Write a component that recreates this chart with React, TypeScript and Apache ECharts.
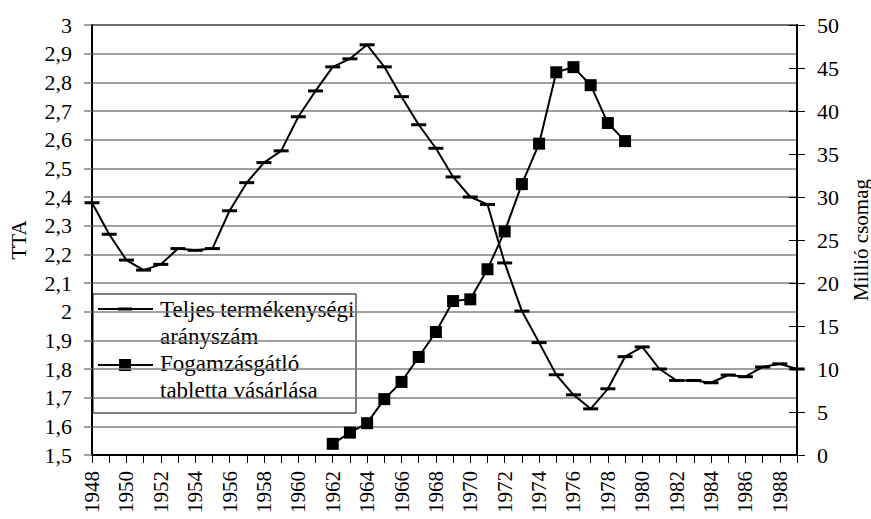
import React, { useEffect, useRef } from "react";
import * as echarts from "echarts";

const years = [
  "1948", "1949", "1950", "1951", "1952", "1953", "1954", "1955", "1956", "1957",
  "1958", "1959", "1960", "1961", "1962", "1963", "1964", "1965", "1966", "1967",
  "1968", "1969", "1970", "1971", "1972", "1973", "1974", "1975", "1976", "1977",
  "1978", "1979", "1980", "1981", "1982", "1983", "1984", "1985", "1986", "1987",
  "1988", "1989",
];

const tfr = [
  2.38, 2.27, 2.18, 2.145, 2.165, 2.22, 2.214, 2.22, 2.352, 2.45,
  2.52, 2.561, 2.68, 2.77, 2.854, 2.882, 2.931, 2.854, 2.75, 2.652,
  2.57, 2.47, 2.4, 2.374, 2.17, 2.002, 1.892, 1.78, 1.71, 1.661,
  1.731, 1.843, 1.877, 1.8, 1.76, 1.76, 1.752, 1.779, 1.773, 1.807,
  1.818, 1.8,
];

const pill = [
  null, null, null, null, null, null, null, null, null, null,
  null, null, null, null, 1.3, 2.6, 3.7, 6.5, 8.5, 11.4,
  14.3, 17.9, 18.1, 21.6, 26.0, 31.5, 36.2, 44.5, 45.1, 43.0,
  38.6, 36.5, null, null, null, null, null, null, null, null,
  null, null,
];

const tfrName = "Teljes termékenységi\narányszám";
const pillName = "Fogamzásgátló\ntabletta vásárlása";

const FONT = "Liberation Serif";

export default function App() {
  const ref = useRef<HTMLDivElement>(null);
  useEffect(() => {
    const chart = echarts.init(ref.current!, null, { renderer: "svg" });
    chart.setOption({
      animation: false,
      backgroundColor: "#ffffff",
      textStyle: { fontFamily: FONT, color: "#000" },
      grid: {
        left: 92,
        right: 74,
        top: 25,
        bottom: 64,
        containLabel: false,
        outerBoundsMode: "none",
        show: true,
        borderColor: "#000",
        borderWidth: 1.5,
      },
      xAxis: {
        type: "category",
        data: years,
        boundaryGap: false,
        axisLine: { lineStyle: { color: "#000", width: 2 } },
        axisTick: { show: true, interval: 0, length: 8, lineStyle: { color: "#000", width: 1 } },
        axisLabel: {
          interval: 1,
          rotate: 90,
          margin: 16,
          fontFamily: FONT,
          fontSize: 21,
          color: "#000",
        },
        splitLine: { show: false },
      },
      yAxis: [
        {
          type: "value",
          min: 1.5,
          max: 3,
          interval: 0.1,
          name: "TTA",
          nameLocation: "middle",
          nameGap: 63,
          nameRotate: 90,
          nameTextStyle: { fontFamily: FONT, fontSize: 21, color: "#000" },
          axisLine: { show: true, lineStyle: { color: "#000", width: 2 } },
          axisTick: { show: true, length: 8, lineStyle: { color: "#808080", width: 1.5 } },
          axisLabel: {
            margin: 20,
            fontFamily: FONT,
            fontSize: 22,
            color: "#000",
            formatter: (v: number) => String(+v.toFixed(1)).replace(".", ","),
          },
          splitLine: { show: true, lineStyle: { color: "#808080", width: 1.5 } },
        },
        {
          type: "value",
          min: 0,
          max: 50,
          interval: 5,
          position: "right",
          name: "Millió csomag",
          nameLocation: "middle",
          nameGap: 53,
          nameRotate: 90,
          nameTextStyle: { fontFamily: FONT, fontSize: 21, color: "#000" },
          axisLine: { show: true, lineStyle: { color: "#000", width: 2 } },
          axisTick: { show: true, length: 8, lineStyle: { color: "#000", width: 1 } },
          axisLabel: { margin: 20, fontFamily: FONT, fontSize: 22, color: "#000" },
          splitLine: { show: false },
        },
        {
          type: "value",
          min: 0,
          max: 50,
          interval: 5,
          position: "right",
          axisLine: { show: false },
          axisTick: { show: true, inside: true, length: 8, lineStyle: { color: "#000", width: 1 } },
          axisLabel: { show: false },
          splitLine: { show: false },
        },
      ],
      series: [
        {
          name: tfrName,
          type: "line",
          yAxisIndex: 0,
          data: tfr,
          symbol: "rect",
          symbolSize: [15, 3],
          showAllSymbol: true,
          lineStyle: { color: "#000", width: 2 },
          itemStyle: { color: "#000" },
          z: 3,
        },
        {
          name: pillName,
          type: "line",
          yAxisIndex: 1,
          data: pill,
          connectNulls: false,
          symbol: "rect",
          symbolSize: 12,
          showAllSymbol: true,
          lineStyle: { color: "#000", width: 2 },
          itemStyle: { color: "#000" },
          z: 4,
        },
      ],
      graphic: [
        {
          type: "group",
          z: 100,
          children: [
            {
              type: "rect",
              shape: { x: 93, y: 294, width: 263, height: 119 },
              style: { fill: "#fff", stroke: "#000", lineWidth: 1 },
            },
            {
              type: "line",
              shape: { x1: 98, y1: 309, x2: 153, y2: 309 },
              style: { stroke: "#000", lineWidth: 2 },
            },
            {
              type: "rect",
              shape: { x: 118, y: 307.5, width: 14, height: 3 },
              style: { fill: "#000" },
            },
            {
              type: "line",
              shape: { x1: 98, y1: 365, x2: 153, y2: 365 },
              style: { stroke: "#000", lineWidth: 2 },
            },
            {
              type: "rect",
              shape: { x: 119, y: 359, width: 12, height: 12 },
              style: { fill: "#000" },
            },
            {
              type: "text",
              x: 160,
              y: 296,
              style: {
                text: tfrName,
                fontFamily: FONT,
                fontSize: 23,
                lineHeight: 27,
                fill: "#000",
                align: "left",
                verticalAlign: "top",
              },
            },
            {
              type: "text",
              x: 160,
              y: 350,
              style: {
                text: pillName,
                fontFamily: FONT,
                fontSize: 23,
                lineHeight: 27,
                fill: "#000",
                align: "left",
                verticalAlign: "top",
              },
            },
          ],
        },
      ],
    });
    return () => chart.dispose();
  }, []);
  return (
    <div
      ref={ref}
      style={{ position: "absolute", left: 0, top: 0, width: 871, height: 519 }}
    />
  );
}
